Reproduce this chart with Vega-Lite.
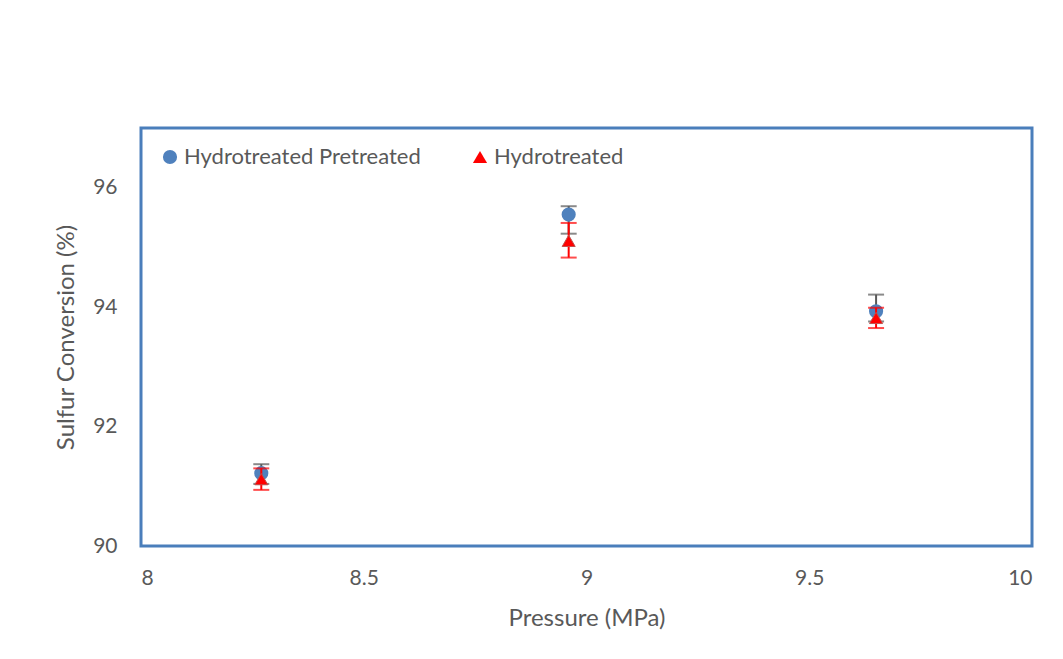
{
  "$schema": "https://vega.github.io/schema/vega-lite/v6.json",
  "autosize": {"type": "none"},
  "width": 891,
  "height": 418,
  "padding": {"left": 141, "top": 128, "right": 31, "bottom": 113},
  "background": "white",
  "config": {
    "font": "Lato",
    "view": {"stroke": "#4A7EBB", "strokeWidth": 3},
    "axis": {
      "grid": false,
      "ticks": false,
      "domain": false,
      "labelColor": "#595959",
      "titleColor": "#595959",
      "labelFontSize": 21,
      "titleFontWeight": "normal",
      "labelFont": "Lato",
      "titleFont": "Lato"
    }
  },
  "data": {
    "values": [
      {"pressure": 8.27, "series": "Hydrotreated Pretreated", "conversion": 91.22, "lo": 91.04, "hi": 91.37},
      {"pressure": 8.96, "series": "Hydrotreated Pretreated", "conversion": 95.55, "lo": 95.23, "hi": 95.69},
      {"pressure": 9.65, "series": "Hydrotreated Pretreated", "conversion": 93.93, "lo": 93.76, "hi": 94.21},
      {"pressure": 8.27, "series": "Hydrotreated", "conversion": 91.12, "lo": 90.94, "hi": 91.30},
      {"pressure": 8.96, "series": "Hydrotreated", "conversion": 95.11, "lo": 94.83, "hi": 95.41},
      {"pressure": 9.65, "series": "Hydrotreated", "conversion": 93.82, "lo": 93.65, "hi": 93.99}
    ]
  },
  "encoding": {
    "x": {
      "field": "pressure",
      "type": "quantitative",
      "title": "Pressure (MPa)",
      "scale": {"domain": [8, 10], "nice": false, "zero": false},
      "axis": {"values": [8, 8.5, 9, 9.5, 10], "labelPadding": 21, "titlePadding": 18, "titleFontSize": 24, "format": "~g"}
    }
  },
  "layer": [
    {
      "transform": [{"filter": "datum.series === 'Hydrotreated Pretreated'"}],
      "mark": {"type": "errorbar", "ticks": {"size": 16, "thickness": 2, "color": "#595959"}, "rule": {"strokeWidth": 2, "color": "#595959"}, "color": "#595959"},
      "encoding": {
        "y": {"field": "lo", "type": "quantitative", "title": "Sulfur  Conversion (%)",
          "scale": {"domain": [90, 97], "nice": false, "zero": false},
          "axis": {"values": [90, 92, 94, 96], "format": "d", "labelPadding": 24, "titlePadding": 14, "titleFontSize": 24}},
        "y2": {"field": "hi"}
      }
    },
    {
      "transform": [{"filter": "datum.series === 'Hydrotreated Pretreated'"}],
      "mark": {"type": "point", "filled": true, "opacity": 1, "size": 200},
      "encoding": {
        "y": {"field": "conversion", "type": "quantitative", "title": "Sulfur  Conversion (%)"},
        "color": {"field": "series", "type": "nominal",
          "scale": {"domain": ["Hydrotreated Pretreated", "Hydrotreated"], "range": ["#4F81BD", "#FF0000"]},
          "legend": {"title": null, "orient": "top-left", "direction": "horizontal", "offset": 18, "labelFontSize": 22, "labelLimit": 500, "labelColor": "#595959", "labelFont": "Lato", "columnPadding": 48, "symbolSize": 200, "labelOffset": 3}},
        "shape": {"field": "series", "type": "nominal",
          "scale": {"domain": ["Hydrotreated Pretreated", "Hydrotreated"], "range": ["circle", "triangle-up"]}}
      }
    },
    {
      "transform": [{"filter": "datum.series === 'Hydrotreated'"}],
      "mark": {"type": "errorbar", "ticks": {"size": 16, "thickness": 2, "color": "#FF0000"}, "rule": {"strokeWidth": 2, "color": "#FF0000"}, "color": "#FF0000"},
      "encoding": {
        "y": {"field": "lo", "type": "quantitative", "title": "Sulfur  Conversion (%)"},
        "y2": {"field": "hi"}
      }
    },
    {
      "transform": [{"filter": "datum.series === 'Hydrotreated'"}],
      "mark": {"type": "point", "filled": true, "opacity": 1, "size": 170, "stroke": "#C0504D", "strokeWidth": 1},
      "encoding": {
        "y": {"field": "conversion", "type": "quantitative", "title": "Sulfur  Conversion (%)"},
        "color": {"field": "series", "type": "nominal"},
        "shape": {"field": "series", "type": "nominal"}
      }
    }
  ]
}
